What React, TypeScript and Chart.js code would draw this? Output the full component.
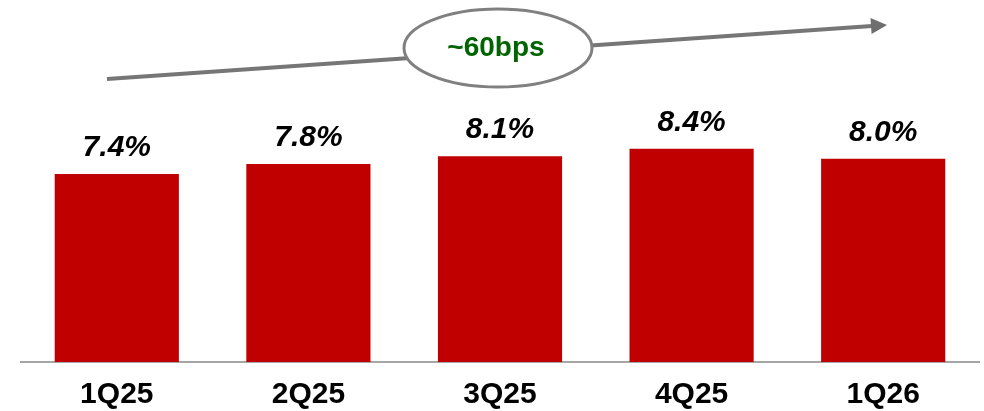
import React, { useEffect, useRef } from "react";
import { Chart, registerables } from "chart.js";

Chart.register(...registerables);

const categories = ["1Q25", "2Q25", "3Q25", "4Q25", "1Q26"];
const values = [7.4, 7.8, 8.1, 8.4, 8.0];
const valueLabels = ["7.4%", "7.8%", "8.1%", "8.4%", "8.0%"];
const calloutText = "~60bps";

const FONT = "'Liberation Sans', Arial, sans-serif";

const labelPlugin = {
  id: "valueLabels",
  afterDatasetsDraw(chart: any) {
    const ctx = chart.ctx;
    const meta = chart.getDatasetMeta(0);
    ctx.save();
    ctx.font = `italic bold 30px ${FONT}`;
    ctx.fillStyle = "#000000";
    ctx.textAlign = "center";
    ctx.textBaseline = "alphabetic";
    meta.data.forEach((bar: any, i: number) => {
      ctx.fillText(valueLabels[i], bar.x, bar.y - 18);
    });
    ctx.restore();
  },
};

const calloutPlugin = {
  id: "callout",
  afterDraw(chart: any) {
    const ctx = chart.ctx;
    ctx.save();
    const x1 = 107, y1 = 79, x2 = 872, y2 = 26;
    ctx.strokeStyle = "#767676";
    ctx.lineWidth = 4;
    ctx.beginPath();
    ctx.moveTo(x1, y1);
    ctx.lineTo(x2, y2);
    ctx.stroke();
    const ang = Math.atan2(y2 - y1, x2 - x1);
    const tipX = 887, tipY = 25;
    ctx.fillStyle = "#6e6e6e";
    ctx.beginPath();
    ctx.moveTo(tipX, tipY);
    ctx.lineTo(tipX - 16 * Math.cos(ang) + 8 * Math.sin(ang), tipY - 16 * Math.sin(ang) - 8 * Math.cos(ang));
    ctx.lineTo(tipX - 16 * Math.cos(ang) - 8 * Math.sin(ang), tipY - 16 * Math.sin(ang) + 8 * Math.cos(ang));
    ctx.closePath();
    ctx.fill();
    ctx.beginPath();
    ctx.ellipse(498, 48, 94, 39, 0, 0, Math.PI * 2);
    ctx.fillStyle = "#ffffff";
    ctx.fill();
    ctx.lineWidth = 3;
    ctx.strokeStyle = "#808080";
    ctx.stroke();
    ctx.font = `bold 28px ${FONT}`;
    ctx.fillStyle = "#006400";
    ctx.textAlign = "center";
    ctx.textBaseline = "middle";
    ctx.fillText(calloutText, 496, 48);
    ctx.restore();
  },
};

export default function App() {
  const ref = useRef<HTMLCanvasElement | null>(null);
  useEffect(() => {
    if (!ref.current) return;
    const chart = new Chart(ref.current, {
      type: "bar",
      data: {
        labels: categories,
        datasets: [
          {
            data: values,
            backgroundColor: "#C00000",
            borderWidth: 0,
            categoryPercentage: 1,
            barPercentage: 0.648,
          },
        ],
      },
      options: {
        animation: false,
        responsive: false,
        maintainAspectRatio: false,
        devicePixelRatio: 1,
        layout: { padding: { top: 108, left: 21, right: 5, bottom: 0 } },
        plugins: { legend: { display: false }, tooltip: { enabled: false } },
        scales: {
          x: {
            grid: { display: false, drawTicks: false },
            border: { display: true, color: "#A6A6A6", width: 2 },
            ticks: {
              color: "#000000",
              font: { family: FONT, size: 30, weight: "bold" },
              padding: 15,
            },
            afterFit(scale: any) {
              scale.height = 49;
            },
          },
          y: {
            display: false,
            min: 0,
            max: 10,
          },
        },
      },
      plugins: [labelPlugin, calloutPlugin],
    });
    return () => chart.destroy();
  }, []);
  return (
    <div style={{ position: "absolute", left: 0, top: 0, width: 984, height: 411, background: "#fff" }}>
      <canvas ref={ref} width={984} height={411} style={{ display: "block" }} />
    </div>
  );
}
